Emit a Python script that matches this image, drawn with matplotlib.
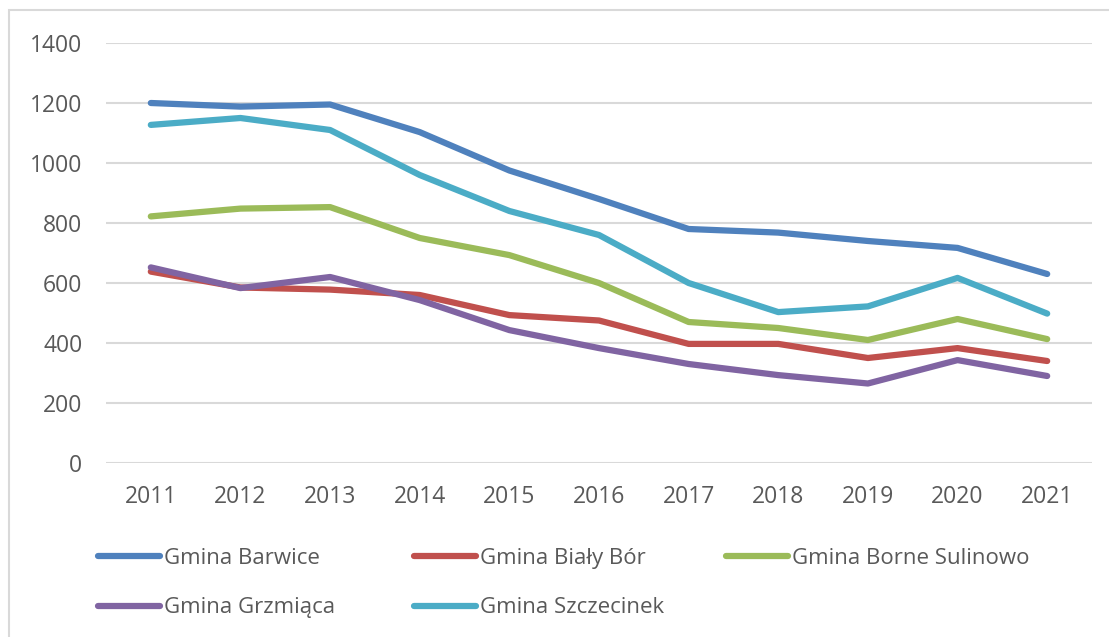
import matplotlib
matplotlib.use("Agg")
import matplotlib.pyplot as plt
from matplotlib.patches import Rectangle

years = [2011, 2012, 2013, 2014, 2015, 2016, 2017, 2018, 2019, 2020, 2021]
barwice = [1200, 1188, 1195, 1103, 975, 880, 780, 768, 740, 717, 630]
bialy_bor = [638, 585, 578, 560, 493, 475, 397, 397, 350, 383, 340]
borne_sulinowo = [822, 848, 853, 750, 693, 600, 470, 450, 410, 480, 413]
grzmiaca = [652, 583, 620, 543, 443, 383, 330, 293, 265, 343, 290]
szczecinek = [1127, 1150, 1110, 960, 840, 760, 600, 503, 522, 617, 498]

names = ["Gmina Barwice", "Gmina Biały Bór", "Gmina Borne Sulinowo",
         "Gmina Grzmiąca", "Gmina Szczecinek"]
series = [barwice, bialy_bor, borne_sulinowo, grzmiaca, szczecinek]
colors = ["#4F81BD", "#C0504D", "#9BBB59", "#8064A2", "#4BACC6"]
yticks = [0, 200, 400, 600, 800, 1000, 1200, 1400]

plt.rcParams['font.family'] = ['Open Sans', 'DejaVu Sans']
TXT = "#595959"
FS = 16.5
LFS = 16

fig = plt.figure(figsize=(11.09, 6.37), dpi=100)
W, H = 1109, 637

# outer chart frame
fig.patches.append(Rectangle((9 / W, -0.1), 1.2, 1 - 10 / H + 0.1,
                             transform=fig.transFigure, fill=False,
                             edgecolor="#D9D9D9", linewidth=1.5))

ax = fig.add_axes([106 / W, 1 - 463 / H, (1092 - 106) / W, (463 - 43) / H])
x = list(range(len(years)))
handles = []
for vals, name, c in zip(series, names, colors):
    h, = ax.plot(x, vals, color=c, lw=4.5, solid_capstyle='round',
                 solid_joinstyle='round', label=name)
    handles.append(h)

ax.set_xlim(-0.5, len(years) - 0.5)
ax.set_ylim(0, 1400)
ax.set_yticks(yticks)
ax.set_yticklabels([str(v) for v in yticks])
ax.set_xticks(x)
ax.set_xticklabels([str(y) for y in years])
ax.grid(axis='y', color="#D9D9D9", lw=1.5)
ax.set_axisbelow(True)
for s in ax.spines.values():
    s.set_visible(False)
ax.tick_params(axis='both', length=0, labelsize=FS, colors=TXT)
ax.tick_params(axis='y', pad=17)
ax.tick_params(axis='x', pad=16)

# legend laid out in three columns, row-major like the original
columns = [([0, 3], 98), ([1, 4], 414), ([2], 726)]
for idx, xpx in columns:
    leg = fig.legend([handles[i] for i in idx], [names[i] for i in idx],
                     ncol=1, loc='upper left',
                     bbox_to_anchor=(xpx / W, 1 - 548 / H),
                     frameon=False, fontsize=LFS, handlelength=2.8,
                     handletextpad=0.15, labelspacing=1.28,
                     borderpad=0, borderaxespad=0)
    for t in leg.get_texts():
        t.set_color(TXT)

fig.savefig("out.png", dpi=100)
